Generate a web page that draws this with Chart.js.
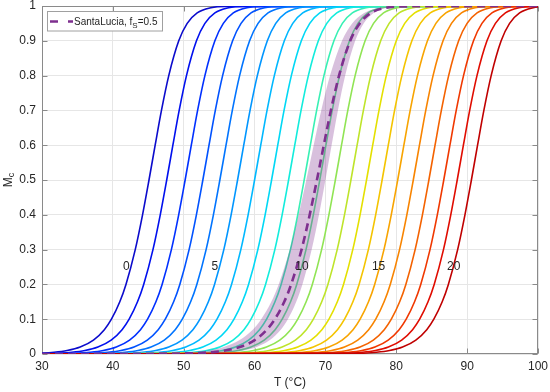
<!DOCTYPE html>
<html>
<head>
<meta charset="utf-8">
<script src="https://cdn.jsdelivr.net/npm/chart.js@4.4.1/dist/chart.umd.min.js"></script>
<style>
  html, body { margin: 0; padding: 0; background: #fff; }
</style>
</head>
<body>
<canvas id="mc-chart" width="550" height="392"></canvas>
<script>
// Melt curves Mc(T), one line per curve index 0..20.
// Each row holds the temperature (°C) where the curve reaches the M level
// of the same column.
const M_LEVELS = [0, 0.002, 0.005, 0.01, 0.02, 0.04, 0.07, 0.1, 0.15, 0.2, 0.3, 0.4, 0.5,
                  0.6, 0.7, 0.8, 0.9, 0.95, 0.98, 0.995, 0.999, 1];

const CURVE_T = [
  [25, 29.28, 31.71, 33.55, 35.39, 37.26, 38.80, 39.80, 40.98, 41.85, 43.16, 44.19, 45.10, 45.97, 46.86, 47.89, 49.30, 50.49, 51.90, 53.83, 55.92, 110],
  [30, 31.78, 34.21, 36.05, 37.89, 39.76, 41.30, 42.30, 43.48, 44.35, 45.66, 46.69, 47.60, 48.47, 49.36, 50.39, 51.80, 52.99, 54.40, 56.33, 58.42, 110],
  [30, 34.38, 36.81, 38.65, 40.49, 42.36, 43.90, 44.90, 46.08, 46.95, 48.26, 49.29, 50.20, 51.07, 51.96, 52.99, 54.40, 55.59, 57.00, 58.93, 61.02, 110],
  [30, 36.88, 39.31, 41.15, 42.99, 44.86, 46.40, 47.40, 48.58, 49.45, 50.76, 51.79, 52.70, 53.57, 54.46, 55.49, 56.90, 58.09, 59.50, 61.43, 63.52, 110],
  [30, 39.28, 41.71, 43.55, 45.39, 47.26, 48.80, 49.80, 50.98, 51.85, 53.16, 54.19, 55.10, 55.97, 56.86, 57.89, 59.30, 60.49, 61.90, 63.83, 65.92, 110],
  [30, 41.78, 44.21, 46.05, 47.89, 49.76, 51.30, 52.30, 53.48, 54.35, 55.66, 56.69, 57.60, 58.47, 59.36, 60.39, 61.80, 62.99, 64.40, 66.33, 68.42, 110],
  [30, 44.18, 46.61, 48.45, 50.29, 52.16, 53.70, 54.70, 55.88, 56.75, 58.06, 59.09, 60.00, 60.87, 61.76, 62.79, 64.20, 65.39, 66.80, 68.73, 70.82, 110],
  [30, 46.58, 49.01, 50.85, 52.69, 54.56, 56.10, 57.10, 58.28, 59.15, 60.46, 61.49, 62.40, 63.27, 64.16, 65.19, 66.60, 67.79, 69.20, 71.13, 73.22, 110],
  [30, 48.98, 51.41, 53.25, 55.09, 56.96, 58.50, 59.50, 60.68, 61.55, 62.86, 63.89, 64.80, 65.67, 66.56, 67.59, 69.00, 70.19, 71.60, 73.53, 75.62, 110],
  [30, 51.18, 53.61, 55.45, 57.29, 59.16, 60.70, 61.70, 62.88, 63.75, 65.06, 66.09, 67.00, 67.87, 68.76, 69.79, 71.20, 72.39, 73.80, 75.73, 77.82, 110],
  [30, 53.38, 55.81, 57.65, 59.49, 61.36, 62.90, 63.90, 65.08, 65.95, 67.26, 68.29, 69.20, 70.07, 70.96, 71.99, 73.40, 74.59, 76.00, 77.93, 80.02, 110],
  [30, 55.58, 58.01, 59.85, 61.69, 63.56, 65.10, 66.10, 67.28, 68.15, 69.46, 70.49, 71.40, 72.27, 73.16, 74.19, 75.60, 76.79, 78.20, 80.13, 82.22, 110],
  [30, 57.78, 60.21, 62.05, 63.89, 65.76, 67.30, 68.30, 69.48, 70.35, 71.66, 72.69, 73.60, 74.47, 75.36, 76.39, 77.80, 78.99, 80.40, 82.33, 84.42, 110],
  [30, 59.98, 62.41, 64.25, 66.09, 67.96, 69.50, 70.50, 71.68, 72.55, 73.86, 74.89, 75.80, 76.67, 77.56, 78.59, 80.00, 81.19, 82.60, 84.53, 86.62, 110],
  [30, 62.18, 64.61, 66.45, 68.29, 70.16, 71.70, 72.70, 73.88, 74.75, 76.06, 77.09, 78.00, 78.87, 79.76, 80.79, 82.20, 83.39, 84.80, 86.73, 88.82, 110],
  [30, 64.38, 66.81, 68.65, 70.49, 72.36, 73.90, 74.90, 76.08, 76.95, 78.26, 79.29, 80.20, 81.07, 81.96, 82.99, 84.40, 85.59, 87.00, 88.93, 91.02, 110],
  [30, 66.58, 69.01, 70.85, 72.69, 74.56, 76.10, 77.10, 78.28, 79.15, 80.46, 81.49, 82.40, 83.27, 84.16, 85.19, 86.60, 87.79, 89.20, 91.13, 93.22, 110],
  [30, 68.78, 71.21, 73.05, 74.89, 76.76, 78.30, 79.30, 80.48, 81.35, 82.66, 83.69, 84.60, 85.47, 86.36, 87.39, 88.80, 89.99, 91.40, 93.33, 95.42, 110],
  [30, 70.88, 73.31, 75.15, 76.99, 78.86, 80.40, 81.40, 82.58, 83.45, 84.76, 85.79, 86.70, 87.57, 88.46, 89.49, 90.90, 92.09, 93.50, 95.43, 97.52, 110],
  [30, 72.78, 75.21, 77.05, 78.89, 80.76, 82.30, 83.30, 84.48, 85.35, 86.66, 87.69, 88.60, 89.47, 90.36, 91.39, 92.80, 93.99, 95.40, 97.33, 99.42, 110],
  [30, 74.78, 77.21, 79.05, 80.89, 82.76, 84.30, 85.30, 86.48, 87.35, 88.66, 89.69, 90.60, 91.47, 92.36, 93.39, 94.80, 95.99, 97.40, 99.33, 101.42, 110],
];

// SantaLucia, fS = 0.5 curve and the edges of its shaded band (same M levels)
const SANTALUCIA_T = [30, 51.08, 53.80, 55.86, 57.92, 60.02, 61.74, 62.86, 64.19, 65.16, 66.63, 67.78, 68.80, 69.77, 70.77, 71.92, 73.50, 74.84, 76.42, 78.58, 80.92, 110];
const BAND_LOW_T   = [30, 48.32, 51.23, 53.44, 55.65, 57.89, 59.74, 60.94, 62.36, 63.40, 64.97, 66.21, 67.30, 68.34, 69.41, 70.65, 72.34, 73.77, 75.46, 77.78, 80.28, 110];
const BAND_HIGH_T  = [30, 54.18, 56.61, 58.45, 60.29, 62.16, 63.70, 64.70, 65.88, 66.75, 68.06, 69.09, 70.00, 70.87, 71.76, 72.79, 74.20, 75.39, 76.80, 78.73, 80.82, 110];

// Inline curve labels, placed at Mc = 0.25
const CURVE_LABELS  = ['0', '5', '10', '15', '20'];
const CURVE_LABEL_T = [41.9, 54.4, 66.7, 77.5, 88.1];
const CURVE_LABEL_M = 0.25;

const X_TICKS = ['30', '40', '50', '60', '70', '80', '90', '100'];
const Y_TICKS = ['0', '0.1', '0.2', '0.3', '0.4', '0.5', '0.6', '0.7', '0.8', '0.9', '1'];

// jet-like ramp, blue -> red
const CURVE_COLORS = [
  '#0b0bcc', '#0010ee', '#0030ff', '#0052ff', '#0074ff', '#0096ff', '#00b8ff',
  '#00d8f5', '#12ecdc', '#38f0b4', '#5ee890', '#90e454', '#bee42a', '#e4e000',
  '#f4c400', '#f8a400', '#f88400', '#f46200', '#f03800', '#e00c00', '#c00000',
];

const PURPLE = '#7e2f8e';
const FONT   = "'Liberation Sans', Arial, Helvetica, sans-serif";
const INK    = '#262626';
const AXIS   = '#8a8a8a';

function toPoints(temps) {
  return temps.map((t, k) => ({ x: t, y: M_LEVELS[k] }));
}

const datasets = [];

// index 0: dashed SantaLucia line (drawn on top)
datasets.push({
  data: toPoints(SANTALUCIA_T),
  borderColor: PURPLE,
  borderWidth: 2.6,
  borderDash: [8, 5],
  fill: false,
  order: 0,
});

// index 1 + 2: shaded band, filled from low edge to high edge
datasets.push({
  data: toPoints(BAND_LOW_T),
  borderWidth: 0,
  borderColor: 'rgba(0,0,0,0)',
  backgroundColor: 'rgba(126,47,142,0.3)',
  fill: '+1',
  order: 1,
});
datasets.push({
  data: toPoints(BAND_HIGH_T),
  borderWidth: 0,
  borderColor: 'rgba(0,0,0,0)',
  fill: false,
  order: 1,
});

CURVE_T.forEach((row, i) => {
  datasets.push({
    data: toPoints(row),
    borderColor: CURVE_COLORS[i],
    borderWidth: 1.6,
    fill: false,
    order: 2 + (CURVE_T.length - 1 - i),   // later curves drawn over earlier ones
  });
});

// ── Axes box, inline labels, titles and legend ───────────────

const decorations = {
  id: 'decorations',

  beforeDatasetsDraw(chart) {
    const { ctx, chartArea: a, scales: { x, y } } = chart;
    const L = Math.round(a.left) + 0.5, R = Math.round(a.right) - 0.5;
    const T = Math.round(a.top) + 0.5,  B = Math.round(a.bottom) - 0.5;
    ctx.save();
    ctx.strokeStyle = AXIS;
    ctx.lineWidth = 1;
    ctx.strokeRect(L, T, R - L, B - T);
    ctx.beginPath();
    x.ticks.forEach(t => {
      const px = Math.round(x.getPixelForValue(t.value)) + 0.5;
      ctx.moveTo(px, B); ctx.lineTo(px, B - 5);
      ctx.moveTo(px, T); ctx.lineTo(px, T + 5);
    });
    y.ticks.forEach(t => {
      const py = Math.round(y.getPixelForValue(t.value)) + 0.5;
      ctx.moveTo(L, py); ctx.lineTo(L + 5, py);
      ctx.moveTo(R, py); ctx.lineTo(R - 5, py);
    });
    ctx.stroke();
    ctx.restore();
  },

  afterDraw(chart) {
    const { ctx, chartArea: a, scales: { x, y } } = chart;
    ctx.save();
    ctx.fillStyle = INK;

    // curve index labels
    ctx.font = '12px ' + FONT;
    ctx.textAlign = 'center';
    ctx.textBaseline = 'middle';
    CURVE_LABELS.forEach((txt, i) => {
      ctx.fillText(txt, x.getPixelForValue(CURVE_LABEL_T[i]), y.getPixelForValue(CURVE_LABEL_M));
    });

    // x title
    ctx.textBaseline = 'alphabetic';
    ctx.fillText('T (°C)', (a.left + a.right) / 2, 386);

    // y title: M with subscript c, rotated
    ctx.save();
    ctx.translate(12, (a.top + a.bottom) / 2);
    ctx.rotate(-Math.PI / 2);
    ctx.textAlign = 'left';
    ctx.font = '12px ' + FONT;
    const wM = ctx.measureText('M').width;
    ctx.font = '9px ' + FONT;
    const wc = ctx.measureText('c').width;
    const x0 = -(wM + wc) / 2;
    ctx.font = '12px ' + FONT;
    ctx.fillText('M', x0, 0);
    ctx.font = '9px ' + FONT;
    ctx.fillText('c', x0 + wM, 2);
    ctx.restore();

    // legend
    ctx.fillStyle = '#ffffff';
    ctx.fillRect(47.5, 11.5, 115, 19.5);
    ctx.strokeStyle = '#a0a0a0';
    ctx.lineWidth = 1;
    ctx.strokeRect(47.5, 11.5, 115, 19.5);

    ctx.strokeStyle = PURPLE;
    ctx.lineWidth = 2.6;
    ctx.setLineDash([8, 10]);
    ctx.beginPath();
    ctx.moveTo(50, 21.5);
    ctx.lineTo(73, 21.5);
    ctx.stroke();
    ctx.setLineDash([]);

    ctx.fillStyle = INK;
    ctx.textAlign = 'left';
    ctx.textBaseline = 'alphabetic';
    let tx = 74;
    ctx.font = '10px ' + FONT;
    ctx.fillText('SantaLucia, f', tx, 24.5);
    tx += ctx.measureText('SantaLucia, f').width;
    ctx.font = '8px ' + FONT;
    ctx.fillText('S', tx, 28);
    tx += ctx.measureText('S').width;
    ctx.font = '10px ' + FONT;
    ctx.fillText('=0.5', tx, 24.5);

    ctx.restore();
  },
};

Chart.defaults.font.family = FONT;
Chart.defaults.font.size = 12;
Chart.defaults.color = INK;

new Chart(document.getElementById('mc-chart'), {
  type: 'line',
  data: { datasets },
  options: {
    responsive: false,
    animation: false,
    events: [],
    layout: { padding: { left: 0, right: 12, top: 6, bottom: 0 } },
    elements: {
      point: { radius: 0 },
      line: { cubicInterpolationMode: 'monotone' },
    },
    plugins: {
      legend: { display: false },
      tooltip: { enabled: false },
    },
    scales: {
      x: {
        type: 'linear',
        min: 30,
        max: 100,
        ticks: {
          stepSize: 10,
          padding: 5,
          maxRotation: 0,
          autoSkip: false,
          callback: (v, i) => X_TICKS[i],
        },
        grid: { color: '#e6e6e6', drawTicks: false },
        border: { display: false },
        afterFit: s => { s.height = 38; s.paddingLeft = 0; s.paddingRight = 0; },
      },
      y: {
        type: 'linear',
        min: 0,
        max: 1,
        ticks: {
          stepSize: 0.1,
          padding: 6,
          autoSkip: false,
          callback: (v, i) => Y_TICKS[i],
        },
        grid: { color: '#e6e6e6', drawTicks: false },
        border: { display: false },
        afterFit: s => { s.width = 42; s.paddingTop = 0; s.paddingBottom = 0; },
      },
    },
  },
  plugins: [decorations],
});
</script>
</body>
</html>
